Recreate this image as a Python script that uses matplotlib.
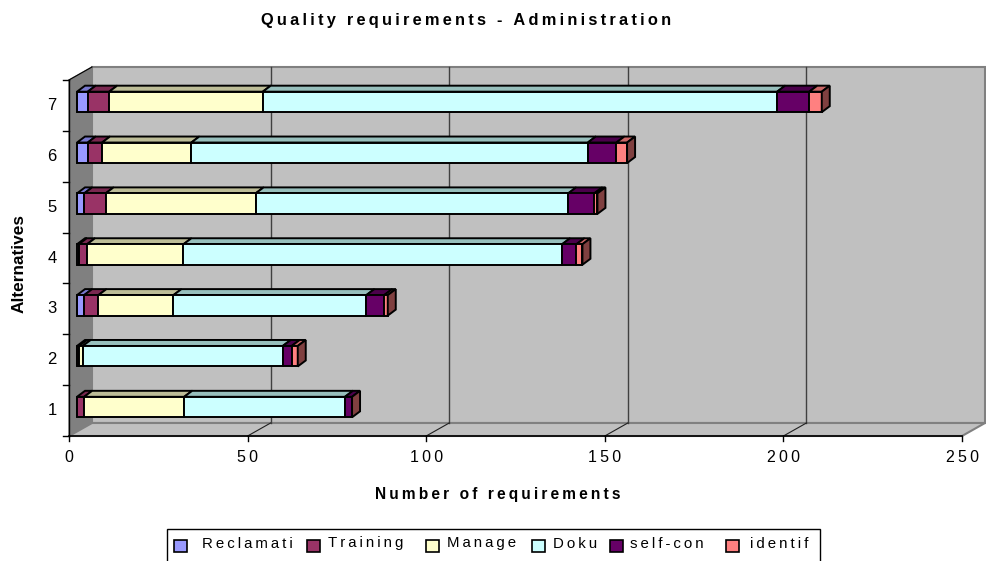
import matplotlib
matplotlib.use("Agg")
from matplotlib import pyplot as plt
from matplotlib.patches import Polygon, Rectangle

W, H = 986, 561

alternatives = [1, 2, 3, 4, 5, 6, 7]
reclamati = [0, 0, 2, 0.5, 2, 3, 3]
training = [2, 0.6, 4, 2.3, 6, 4, 6]
manage = [28, 1, 21, 27, 42, 25, 43]
doku = [45, 56, 54, 106, 87.5, 111, 144]
self_con = [2, 2.5, 5, 4, 7.3, 8, 9]
identif = [0, 1.7, 1, 1.7, 0.9, 3, 3.5]

series = [reclamati, training, manage, doku, self_con, identif]
names = ["Reclamati", "Training", "Manage", "Doku", "self-con", "identif"]
front_colors = ["#9999FF", "#993366", "#FFFFCC", "#CCFFFF", "#660066", "#FF8080"]
top_colors = ["#7777CC", "#7A2850", "#BDBD97", "#97BFBC", "#4B004B", "#C96666"]
side_color = "#804040"
x_ticks = [0, 50, 100, 150, 200, 250]


def spaced(s, gap="\u2009"):
    # the original has wide letter spacing
    return gap.join(s)


fig = plt.figure(figsize=(W / 100, H / 100), dpi=100)
plt.rcParams["font.family"] = ["Liberation Sans", "DejaVu Sans"]
ax = fig.add_axes([69 / W, 1 - 436 / H, (962 - 69) / W, (436 - 80) / H])
ax.set_xlim(0, 250)
ax.set_ylim(0.5, 7.5)
ax.axis("off")

px_x = 250 / (962 - 69)
px_y = 7 / (436 - 80)
wall_dx, wall_dy = 23 * px_x, 13 * px_y
x0, x1, y0, y1 = 0, 250, 0.5, 7.5

# walls and floor
ax.add_patch(Polygon([(x0, y0), (x0 + wall_dx, y0 + wall_dy), (x0 + wall_dx, y1 + wall_dy), (x0, y1)],
                     fc="#808080", ec="#808080", lw=1, clip_on=False, zorder=1))
ax.add_patch(Polygon([(x0 + wall_dx, y0 + wall_dy), (x1 + wall_dx, y0 + wall_dy), (x1 + wall_dx, y1 + wall_dy),
                      (x0 + wall_dx, y1 + wall_dy)],
                     fc="#C0C0C0", ec="#808080", lw=1.5, clip_on=False, zorder=1))
ax.add_patch(Polygon([(x0, y0), (x1, y0), (x1 + wall_dx, y0 + wall_dy), (x0 + wall_dx, y0 + wall_dy)],
                     fc="#C0C0C0", ec="#808080", lw=1.5, clip_on=False, zorder=1))

# grid on back wall and floor
for t in x_ticks[1:-1]:
    ax.plot([t + wall_dx, t + wall_dx], [y0 + wall_dy, y1 + wall_dy], color="#404040", lw=1, clip_on=False, zorder=2)
    ax.plot([t, t + wall_dx], [y0, y0 + wall_dy], color="#202020", lw=0.8, clip_on=False, zorder=2)

# axes lines and ticks
ax.plot([x0, x1], [y0, y0], color="black", lw=1.2, clip_on=False, zorder=3)
ax.plot([x0, x0], [y0, y1], color="black", lw=1, clip_on=False, zorder=3)
ax.plot([x0, x0 + wall_dx], [y1, y1 + wall_dy], color="black", lw=0.8, clip_on=False, zorder=3)
for t in x_ticks:
    ax.plot([t, t], [y0, y0 - 5 * px_y], color="black", lw=1, clip_on=False, zorder=3)
    ax.text(t, y0 - 21 * px_y, spaced(str(t)), ha="center", va="center", fontsize=11.5, color="black")
for k in range(8):
    ax.plot([x0, x0 - 6 * px_x], [y0 + k, y0 + k], color="black", lw=1, clip_on=False, zorder=3)
for a in alternatives:
    ax.text(-17 * px_x, a, str(a), ha="center", va="center", fontsize=12, color="black")

# bars, front face moved into the depth of the chart
bar_dx, bar_dy = 8 * px_x, 3.5 * px_y
depth_dx, depth_dy = 8 * px_x, 6 * px_y
bar_h = 20.5 * px_y
lefts = [0] * len(alternatives)
for vals, c, tc in zip(series, front_colors, top_colors):
    for i, a in enumerate(alternatives):
        if vals[i] == 0:
            continue
        left = lefts[i] + bar_dx
        top = a + bar_dy + bar_h / 2
        ax.add_patch(Polygon([(left, top), (left + vals[i], top), (left + vals[i] + depth_dx, top + depth_dy),
                              (left + depth_dx, top + depth_dy)],
                             fc=tc, ec="black", lw=1.4, zorder=4, clip_on=False))
    ax.barh([a + bar_dy for a in alternatives], vals, height=bar_h,
            left=[v + bar_dx for v in lefts], color=c, edgecolor="black", lw=1.4, zorder=5)
    lefts = [v + n for v, n in zip(lefts, vals)]
for i, a in enumerate(alternatives):
    right = lefts[i] + bar_dx
    bottom = a + bar_dy - bar_h / 2
    ax.add_patch(Polygon([(right, bottom), (right + depth_dx, bottom + depth_dy),
                          (right + depth_dx, bottom + bar_h + depth_dy), (right, bottom + bar_h)],
                         fc=side_color, ec="black", lw=1.4, zorder=6, clip_on=False))

# titles
fig.text(466 / W, 1 - 20 / H, spaced("Quality requirements - Administration"), ha="center", va="center",
         fontsize=11.8, fontweight="bold")
fig.text(498 / W, 1 - 495 / H, spaced("Number of requirements"), ha="center", va="center",
         fontsize=11.2, fontweight="bold")
fig.text(19 / W, 1 - 263.5 / H, "Alternatives", ha="center", va="center", rotation=90,
         fontsize=12.4, fontweight="bold")

# legend, its lower edge runs off the picture
fig.add_artist(Rectangle((167 / W, 1 - 563 / H), (820 - 167) / W, 34 / H, transform=fig.transFigure,
                         fc="white", ec="black", lw=1))
swatch_x = [174, 307, 426, 532, 610, 726]
label_x = [202, 328, 447, 553, 630, 750]
for name, c, sx, lx in zip(names, front_colors, swatch_x, label_x):
    fig.add_artist(Rectangle((sx / W, 1 - 552 / H), 13 / W, 12 / H, transform=fig.transFigure,
                             fc=c, ec="black", lw=1.2))
    fig.text(lx / W, 1 - 543.5 / H, spaced(name), ha="left", va="center", fontsize=10.8)

fig.savefig("out.png", dpi=100)
